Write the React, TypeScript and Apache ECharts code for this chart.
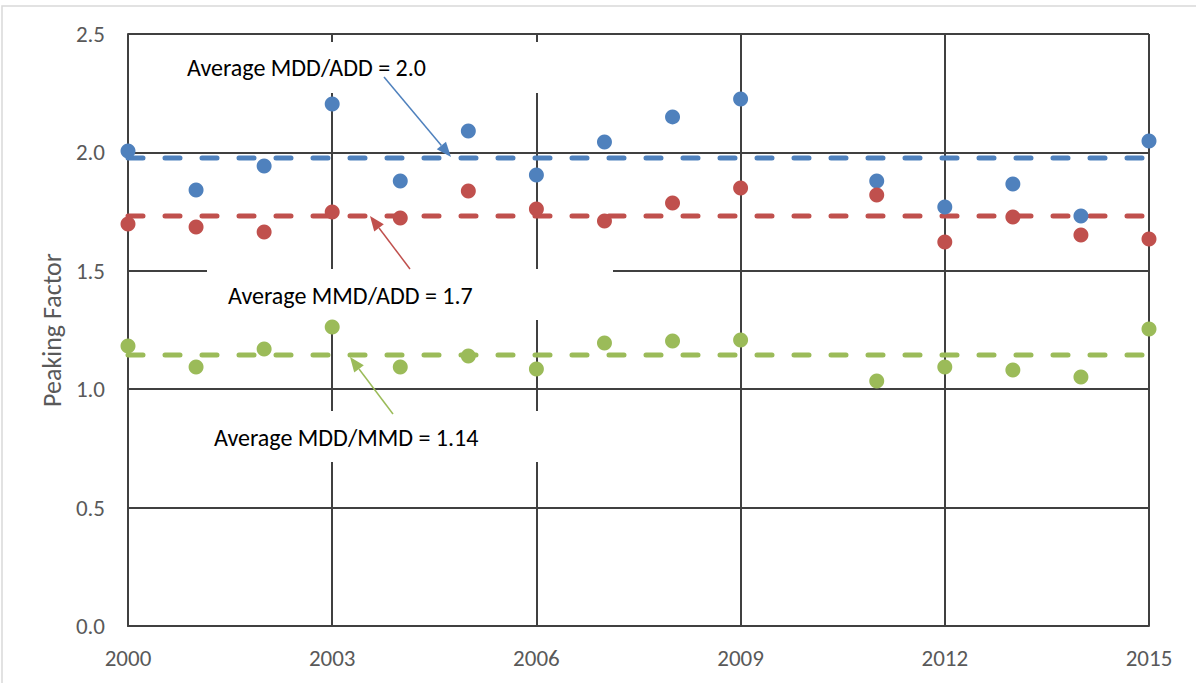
import React, { useEffect, useRef } from "react";
import * as echarts from "echarts";

const years = ["2000","2001","2002","2003","2004","2005","2006","2007","2008","2009","2010","2011","2012","2013","2014","2015"];
const mddAdd = [2.006, 1.841, 1.943, 2.204, 1.879, 2.09, 1.905, 2.044, 2.15, 2.226, null, 1.879, 1.769, 1.867, 1.731, 2.048];
const mmdAdd = [1.698, 1.685, 1.664, 1.748, 1.723, 1.837, 1.761, 1.71, 1.786, 1.85, null, 1.82, 1.622, 1.727, 1.651, 1.634];
const mddMmd = [1.182, 1.094, 1.17, 1.263, 1.094, 1.14, 1.085, 1.195, 1.204, 1.208, null, 1.035, 1.094, 1.081, 1.052, 1.254];
const avgMddAdd = 1.976;
const avgMmdAdd = 1.731;
const avgMddMmd = 1.144;
const yTicks = { min: 0, max: 2.5, interval: 0.5 };
const labels = ["Average MDD/ADD = 2.0", "Average MMD/ADD = 1.7", "Average MDD/MMD = 1.14"];

const BLUE = "#4F81BD";
const RED = "#C0504D";
const GREEN = "#9BBB59";
const GRID = "#404040";
const LABEL = "#595959";
const FONT = "Carlito, Lato, 'Open Sans', sans-serif";

function arrow(x1: number, y1: number, x2: number, y2: number, color: string) {
  const dx = x2 - x1, dy = y2 - y1;
  const len = Math.sqrt(dx * dx + dy * dy);
  const ux = dx / len, uy = dy / len;
  const hl = 15, hw = 6;
  const bx = x2 - ux * hl, by = y2 - uy * hl;
  return [
    { type: "line", z: 10, shape: { x1, y1, x2: bx, y2: by }, style: { stroke: color, lineWidth: 1.5 } },
    {
      type: "polygon", z: 10,
      shape: { points: [[x2, y2], [bx - uy * hw, by + ux * hw], [bx + uy * hw, by - ux * hw]] },
      style: { fill: color },
    },
  ];
}

function box(x: number, y: number, w: number, h: number) {
  return { type: "rect", z: 1, shape: { x, y, width: w, height: h }, style: { fill: "#fff" } };
}

function label(x: number, y: number, t: string) {
  return {
    type: "text", z: 10, x, y,
    style: { text: t, fill: "#000", font: `24px ${FONT}`, verticalAlign: "middle" },
  };
}

function avgLine(v: number, color: string) {
  return {
    type: "line",
    data: years.map(() => v),
    symbol: "none",
    silent: true,
    z: 2,
    lineStyle: { color, width: 5, type: [15, 22], cap: "round" },
  };
}

function dots(data: (number | null)[], color: string) {
  return {
    type: "scatter",
    data: data.map((v) => (v === null ? "-" : v)),
    symbolSize: 15,
    z: 3,
    itemStyle: { color, opacity: 1 },
  };
}

export default function App() {
  const ref = useRef<HTMLDivElement>(null);
  useEffect(() => {
    document.body.style.margin = "0";
    const chart = echarts.init(ref.current!, null, { renderer: "svg" });
    chart.setOption({
      animation: false,
      backgroundColor: "#fff",
      grid: { left: 128, right: 47, top: 34, bottom: 57 },
      xAxis: {
        type: "category",
        data: years,
        boundaryGap: false,
        axisLine: { show: true, lineStyle: { color: GRID, width: 2 } },
        axisTick: { show: false },
        axisLabel: { interval: 2, color: LABEL, fontSize: 23, fontFamily: FONT, margin: 20 },
        splitLine: { show: true, interval: 2, lineStyle: { color: GRID, width: 2 } },
      },
      yAxis: {
        type: "value",
        min: yTicks.min,
        max: yTicks.max,
        interval: yTicks.interval,
        name: "Peaking Factor",
        nameLocation: "middle",
        nameRotate: 90,
        nameGap: 63,
        nameTextStyle: { color: LABEL, fontSize: 26, fontFamily: FONT },
        axisLine: { show: true, lineStyle: { color: GRID, width: 2 } },
        axisTick: { show: false },
        axisLabel: { color: LABEL, fontSize: 23, fontFamily: FONT, margin: 23, formatter: (v: number) => v.toFixed(1) },
        splitLine: { show: true, lineStyle: { color: GRID, width: 2 } },
      },
      series: [
        avgLine(avgMddAdd, BLUE),
        avgLine(avgMmdAdd, RED),
        avgLine(avgMddMmd, GREEN),
        dots(mddAdd, BLUE),
        dots(mmdAdd, RED),
        dots(mddMmd, GREEN),
      ],
      graphic: [
        { type: "polyline", z: 10, shape: { points: [[2, 683], [2, 6], [1196, 6]] }, style: { stroke: "#d9d9d9", lineWidth: 1.5, fill: null } },
        box(166, 42, 406, 51),
        box(207, 269, 406, 51),
        box(193, 411, 406, 51),
        label(187, 67, labels[0]),
        label(228, 295, labels[1]),
        label(214, 437, labels[2]),
        ...arrow(384, 77, 451, 157, BLUE),
        ...arrow(410, 269, 370, 216, RED),
        ...arrow(393, 414, 350, 357, GREEN),
      ],
    });
    return () => chart.dispose();
  }, []);
  return <div ref={ref} style={{ width: 1196, height: 683 }} />;
}
